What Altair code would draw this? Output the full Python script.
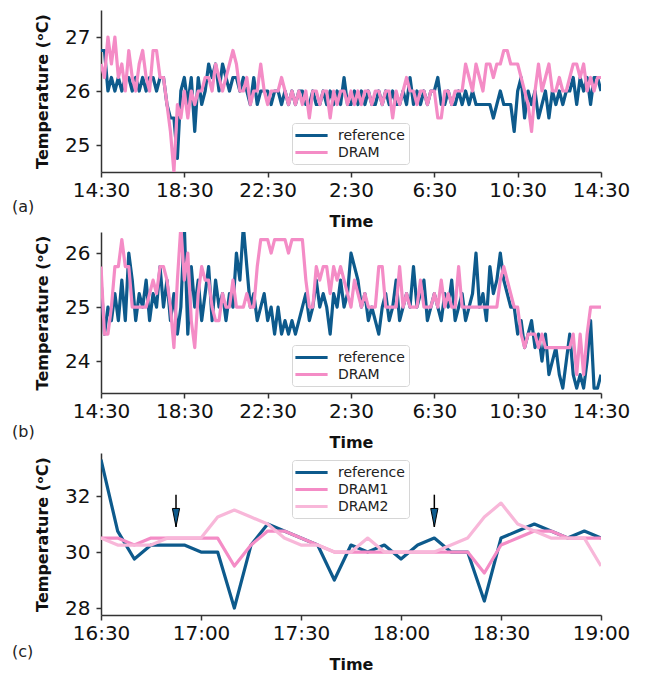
import json
import altair as alt
import pandas as pd

# ---------------- panel (a): 24 h, one sample every 10 min ----------------
a_reference = [
    26.75, 26.75, 26.0, 26.25, 26.0, 26.25,
    26.0, 26.25, 26.25, 26.0, 26.25, 26.0,
    26.25, 26.0, 26.25, 26.25, 26.0, 26.25,
    26.25, 25.75, 25.5, 25.5, 24.75, 26.0,
    26.25, 25.75, 26.25, 25.25, 26.25, 25.75,
    26.0, 26.5, 26.25, 26.5, 26.0, 26.5,
    26.25, 26.0, 26.25, 26.25, 26.0, 26.25,
    26.0, 25.75, 26.25, 25.75, 26.0, 26.0,
    26.0, 25.75, 26.0, 26.0, 25.75, 26.0,
    25.75, 26.0, 25.75, 26.0, 26.0, 25.75,
    25.75, 26.0, 25.75, 25.75, 26.0, 25.75,
    26.0, 25.75, 26.0, 25.75, 26.25, 25.75,
    25.75, 26.0, 25.75, 26.0, 25.75, 26.0,
    25.75, 25.75, 26.0, 25.75, 26.0, 25.75,
    26.0, 25.75, 25.75, 26.0, 25.75, 26.25,
    25.75, 26.0, 25.75, 26.0, 25.75, 26.0,
    26.0, 26.25, 25.75, 25.75, 26.0, 25.75,
    25.75, 26.0, 25.75, 26.0, 25.75, 26.0,
    25.75, 25.75, 25.75, 25.75, 25.75, 25.5,
    25.75, 26.0, 25.75, 25.75, 25.75, 25.25,
    26.0, 26.25, 25.5, 26.0, 25.75, 26.0,
    25.5, 25.75, 26.0, 25.5, 26.0, 25.75,
    26.0, 25.75, 26.0, 26.0, 26.25, 25.75,
    26.25, 26.0, 26.25, 25.75, 26.25, 26.25,
    26.0,
]
a_dram = [
    26.5, 26.25, 27.0, 26.5, 27.0, 26.25,
    26.5, 26.0, 26.75, 26.25, 26.0, 26.5,
    26.75, 26.25, 26.0, 26.75, 26.75, 26.25,
    26.25, 25.75, 25.25, 24.5, 25.75, 25.5,
    26.0, 25.5, 26.0, 25.75, 26.0, 26.0,
    26.25, 26.25, 26.0, 26.5, 26.25, 26.0,
    26.25, 26.5, 26.75, 26.5, 26.0, 26.0,
    26.25, 25.75, 26.0, 26.0, 26.5, 26.0,
    25.75, 26.0, 26.0, 26.0, 26.25, 26.0,
    25.75, 26.0, 25.75, 26.0, 25.75, 26.0,
    25.5, 26.0, 26.0, 25.75, 26.0, 26.0,
    25.5, 26.0, 25.75, 26.0, 26.0, 25.75,
    26.0, 25.75, 26.0, 25.75, 26.0, 26.0,
    25.75, 26.0, 26.0, 25.75, 26.0, 26.0,
    25.5, 26.0, 25.75, 26.0, 26.25, 26.0,
    26.0, 25.75, 26.0, 26.0, 25.75, 26.0,
    26.0, 25.5, 25.5, 26.0, 26.0, 25.75,
    26.0, 26.0, 26.0, 26.5, 26.25, 26.0,
    26.5, 26.25, 26.0, 26.5, 26.5, 26.25,
    26.5, 26.5, 26.75, 26.75, 26.5, 26.5,
    26.5, 26.25, 26.0, 25.75, 25.25, 26.0,
    26.5, 26.0, 26.25, 26.5, 26.0, 26.0,
    26.25, 26.0, 26.0, 26.25, 26.5, 26.5,
    26.25, 26.5, 26.0, 26.25, 26.0, 26.25,
    26.25,
]

# ---------------- panel (b) ----------------
b_reference = [
    25.5, 24.5, 25.0, 24.75, 25.25, 24.75,
    25.5, 24.75, 26.0, 25.5, 24.75, 25.25,
    25.0, 25.5, 24.75, 25.25, 25.0, 25.75,
    25.0, 25.5, 24.75, 25.25, 24.5, 25.0,
    26.5, 24.5, 25.75, 25.0, 25.5, 24.75,
    25.25, 25.75, 24.75, 25.5, 25.0, 25.25,
    24.75, 25.25, 25.0, 26.0, 25.5, 26.5,
    25.75, 25.0, 25.25, 24.75, 25.0, 25.25,
    24.75, 25.0, 24.5, 25.0, 24.5, 24.75,
    24.5, 24.75, 24.5, 24.75, 25.0, 25.25,
    24.75, 25.0, 25.5, 25.0, 25.25, 25.0,
    24.5, 25.25, 25.0, 25.5, 25.0, 25.25,
    26.0, 25.75, 25.5, 25.0, 25.25, 24.75,
    25.0, 24.75, 24.5, 25.0, 25.25, 24.75,
    25.0, 25.5, 24.75, 25.0, 25.25, 25.0,
    25.75, 25.0, 25.25, 25.5, 24.75, 25.0,
    25.25, 25.0, 24.75, 25.25, 25.0, 25.5,
    24.75, 25.0, 25.25, 24.75, 25.0, 25.25,
    26.0, 25.0, 25.25, 24.75, 25.75, 25.25,
    25.5, 26.0, 25.5, 25.25, 25.0, 25.0,
    24.5, 24.75, 24.25, 24.5, 24.75, 24.25,
    24.5, 24.0, 24.5, 23.75, 24.0, 24.25,
    23.75, 23.5, 24.0, 24.5, 23.75, 23.5,
    23.75, 23.5, 24.0, 24.75, 23.5, 23.5,
    23.75,
]
b_dram = [
    25.75, 24.5, 24.5, 25.0, 25.75, 25.75,
    26.25, 25.75, 25.75, 25.0, 25.0, 25.0,
    25.0, 25.0, 25.25, 25.5, 25.25, 25.75,
    25.75, 25.5, 25.0, 24.25, 25.5, 26.5,
    25.5, 26.0, 24.75, 24.25, 25.25, 25.75,
    25.5, 25.5, 25.0, 24.75, 24.75, 25.25,
    25.0, 25.0, 25.5, 25.0, 25.0, 25.0,
    25.25, 25.0, 25.0, 25.75, 26.25, 26.25,
    26.25, 26.0, 26.25, 26.25, 26.25, 26.25,
    26.0, 26.25, 26.25, 26.25, 26.25, 25.5,
    25.0, 25.0, 25.75, 25.5, 25.75, 25.75,
    25.25, 25.75, 25.5, 25.75, 25.5, 25.25,
    25.0, 25.5, 25.25, 25.0, 25.25, 25.0,
    25.0, 25.0, 25.75, 25.75, 25.0, 25.0,
    25.0, 25.0, 25.75, 25.0, 25.25, 25.0,
    25.0, 25.0, 25.5, 25.0, 25.0, 25.0,
    25.25, 25.0, 25.5, 25.0, 25.25, 25.0,
    25.0, 25.75, 25.0, 25.0, 25.0, 25.0,
    25.0, 25.0, 25.0, 25.0, 25.0, 25.0,
    25.0, 25.5, 25.75, 25.5, 25.25, 25.0,
    25.0, 24.5, 24.25, 24.5, 24.5, 24.5,
    24.25, 24.5, 24.25, 24.25, 24.25, 24.25,
    24.25, 24.25, 24.25, 24.25, 24.5, 23.75,
    24.5, 23.75, 24.5, 25.0, 25.0, 25.0,
    25.0,
]

# ---------------- panel (c): 16:30-19:00, one sample every 5 min ----------------
c_reference = [33.3, 30.75, 29.75, 30.25, 30.25, 30.25, 30.0, 30.0, 28.0, 30.25,
               31.0, 30.75, 30.5, 30.25, 29.0, 30.25, 30.0, 30.25, 29.75, 30.25,
               30.5, 30.0, 30.0, 28.25, 30.5, 30.75, 31.0, 30.75, 30.5, 30.75, 30.5]
c_dram1 = [30.5, 30.5, 30.25, 30.5, 30.5, 30.5, 30.5, 30.5, 29.5, 30.25,
           30.75, 30.75, 30.5, 30.25, 30.0, 30.0, 30.0, 30.0, 30.0, 30.0,
           30.0, 30.0, 30.0, 29.25, 30.25, 30.5, 30.75, 30.75, 30.5, 30.5, 30.5]
c_dram2 = [30.5, 30.25, 30.25, 30.25, 30.5, 30.5, 30.5, 31.25, 31.5, 31.25,
           31.0, 30.5, 30.25, 30.25, 30.0, 30.0, 30.5, 30.0, 30.0, 30.0,
           30.0, 30.25, 30.5, 31.25, 31.75, 31.0, 30.75, 30.5, 30.5, 30.5, 29.5]
arrow_minutes = [22.5, 100.0]
arrow_top = [32.05, 32.05]
arrow_tip = [30.9, 30.9]

day_ticks = [0, 4, 8, 12, 16, 20, 24]
day_labels = ["14:30", "18:30", "22:30", "2:30", "6:30", "10:30", "14:30"]
c_ticks = [0, 30, 60, 90, 120, 150]
c_labels = ["16:30", "17:00", "17:30", "18:00", "18:30", "19:00"]

BLUE = "#0d5a8c"
PINK = "#f48cc6"
PINK2 = "#f8b7d9"
FONT = "DejaVu Sans"
W = 500


def frame(xs, series):
    rows = []
    for name, vals in series:
        for x, v in zip(xs, vals):
            rows.append({"t": x, "v": v, "s": name})
    return pd.DataFrame(rows)


def panel(df, names, colors, xdomain, xticks, xlabels, ydomain, yticks, h,
          letter, letter_y, legend_y, extra=None):
    step = xticks[1] - xticks[0]
    xenc = alt.X("t:Q", scale=alt.Scale(domain=xdomain, nice=False, zero=False),
                 axis=alt.Axis(values=xticks, title="Time",
                               labelExpr=json.dumps(xlabels) + f"[round(datum.value/{step})]",
                               labelPadding=3, labelFlush=False, labelOverlap=False,
                               titleY=49, titleBaseline="middle"))
    yenc = alt.Y("v:Q", scale=alt.Scale(domain=ydomain, nice=False, zero=False),
                 axis=alt.Axis(values=yticks, title="Temperature (ᵒC)",
                               labelPadding=6, labelFlush=False, labelOverlap=False,
                               titleX=-59, titleY=h / 2,
                               titleAlign="center", titleBaseline="middle"))
    lines = alt.Chart(df).mark_line(strokeWidth=3.2, clip=True, strokeJoin="round").encode(
        x=xenc, y=yenc,
        color=alt.Color("s:N", sort=names,
                        scale=alt.Scale(domain=names, range=colors),
                        legend=alt.Legend(orient="none", legendX=191, legendY=legend_y,
                                          title=None, symbolType="M-2.3,0H2.3",
                                          symbolSize=196, symbolStrokeWidth=3,
                                          symbolOffset=7, labelOffset=18,
                                          labelFontSize=14, labelFont=FONT,
                                          labelColor="#222", padding=4,
                                          strokeColor="#d6d6d6", fillColor="white",
                                          cornerRadius=3, rowPadding=1)),
    )
    label = alt.Chart(pd.DataFrame({"l": [letter]})).mark_text(
        align="left", baseline="middle", fontSize=16, font=FONT, color="#222"
    ).encode(x=alt.value(-89), y=alt.value(letter_y), text="l:N")
    layers = [lines]
    if extra is not None:
        layers += extra(xenc, yenc)
    layers.append(label)
    return alt.layer(*layers).properties(width=W, height=h)


day_x = [i / 6 for i in range(len(a_reference))]
c_x = [5 * i for i in range(len(c_reference))]

df_a = frame(day_x, [("reference", a_reference), ("DRAM", a_dram)])
df_b = frame(day_x, [("reference", b_reference), ("DRAM", b_dram)])
df_c = frame(c_x, [("reference", c_reference), ("DRAM1", c_dram1), ("DRAM2", c_dram2)])
df_arrow = pd.DataFrame({"t": arrow_minutes, "v": arrow_tip, "v2": arrow_top})


def arrows(xenc, yenc):
    shaft = alt.Chart(df_arrow).mark_rule(color="black", strokeWidth=1.5).encode(
        x=xenc, y=yenc, y2="v2:Q")
    head = alt.Chart(df_arrow).mark_point(
        shape="M0,0L-0.9,-4.6L0.9,-4.6Z", size=64, filled=True, fill=BLUE,
        stroke="black", strokeWidth=1, opacity=1).encode(x=xenc, y=yenc)
    return [shaft, head]


pa = panel(df_a, ["reference", "DRAM"], [BLUE, PINK], [0, 24], day_ticks, day_labels,
           [24.5, 27.5], [25, 26, 27], 162, "(a)", 197, 113)
pb = panel(df_b, ["reference", "DRAM"], [BLUE, PINK], [0, 24], day_ticks, day_labels,
           [23.41, 26.39], [24, 25, 26], 161, "(b)", 200, 113)
pc = panel(df_c, ["reference", "DRAM1", "DRAM2"], [BLUE, PINK, PINK2], [0, 150],
           c_ticks, c_labels, [27.75, 33.54], [28, 30, 32], 162, "(c)", 199, 7,
           extra=arrows)

chart = alt.vconcat(pa, pb, pc, spacing=60, bounds="flush").resolve_scale(
    color="independent", x="independent", y="independent"
).resolve_legend(color="independent").properties(
    padding={"left": 4, "top": 2, "right": 4, "bottom": 0}
).configure_view(stroke=None).configure_axis(
    grid=False, domainColor="#333", tickColor="#333", domainWidth=1.5, tickWidth=1.5,
    tickSize=5, labelFont=FONT, labelFontSize=20, labelColor="#111",
    titleFont=FONT, titleFontSize=16, titleFontWeight="bold", titleColor="#111"
)

chart.save("out.html", embed_options={"renderer": "svg", "actions": False})
